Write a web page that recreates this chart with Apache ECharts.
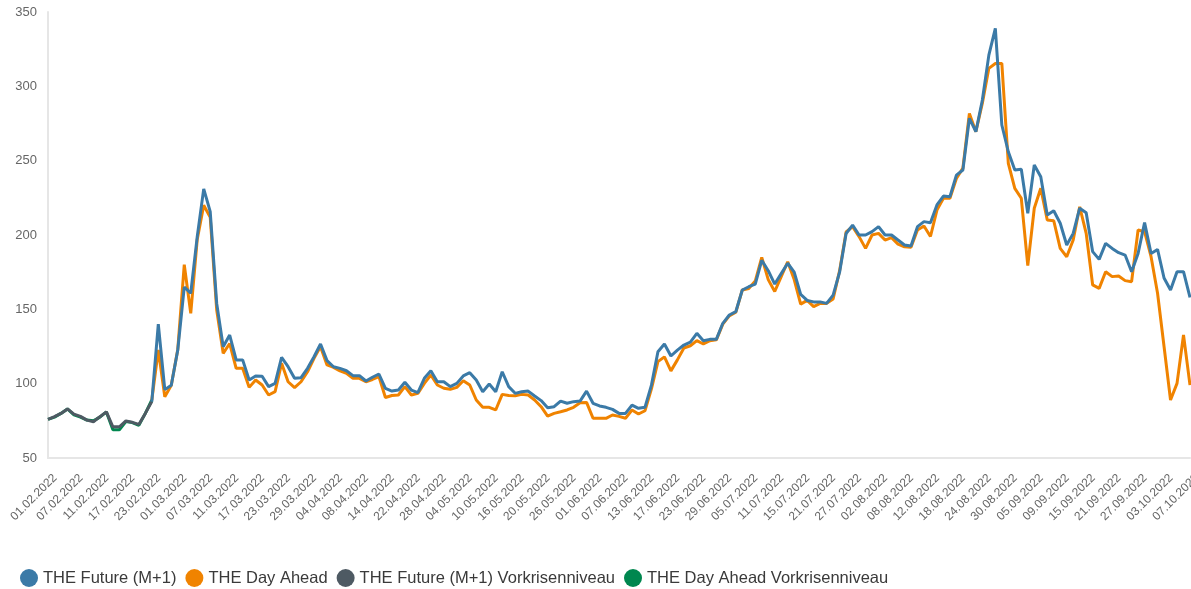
<!DOCTYPE html>
<html><head><meta charset="utf-8">
<script src="https://cdn.jsdelivr.net/npm/echarts@6/dist/echarts.min.js"></script>
<style>html,body{margin:0;padding:0;background:#fff}#c{width:1191px;height:589px}</style>
</head><body><div id="c"></div>
<script>
const dates = [
'01.02.2022','02.02.2022','03.02.2022','04.02.2022','07.02.2022','08.02.2022','09.02.2022','10.02.2022','11.02.2022','14.02.2022','15.02.2022','16.02.2022','17.02.2022','18.02.2022','21.02.2022','22.02.2022','23.02.2022','24.02.2022','25.02.2022','28.02.2022',
'01.03.2022','02.03.2022','03.03.2022','04.03.2022','07.03.2022','08.03.2022','09.03.2022','10.03.2022','11.03.2022','14.03.2022','15.03.2022','16.03.2022','17.03.2022','18.03.2022','21.03.2022','22.03.2022','23.03.2022','24.03.2022','25.03.2022','28.03.2022','29.03.2022','30.03.2022','31.03.2022',
'01.04.2022','04.04.2022','05.04.2022','06.04.2022','07.04.2022','08.04.2022','11.04.2022','12.04.2022','13.04.2022','14.04.2022','19.04.2022','20.04.2022','21.04.2022','22.04.2022','25.04.2022','26.04.2022','27.04.2022','28.04.2022','29.04.2022',
'02.05.2022','03.05.2022','04.05.2022','05.05.2022','06.05.2022','09.05.2022','10.05.2022','11.05.2022','12.05.2022','13.05.2022','16.05.2022','17.05.2022','18.05.2022','19.05.2022','20.05.2022','23.05.2022','24.05.2022','25.05.2022','26.05.2022','27.05.2022','30.05.2022','31.05.2022',
'01.06.2022','02.06.2022','03.06.2022','06.06.2022','07.06.2022','08.06.2022','09.06.2022','10.06.2022','13.06.2022','14.06.2022','15.06.2022','16.06.2022','17.06.2022','20.06.2022','21.06.2022','22.06.2022','23.06.2022','24.06.2022','27.06.2022','28.06.2022','29.06.2022','30.06.2022',
'01.07.2022','04.07.2022','05.07.2022','06.07.2022','07.07.2022','08.07.2022','11.07.2022','12.07.2022','13.07.2022','14.07.2022','15.07.2022','18.07.2022','19.07.2022','20.07.2022','21.07.2022','22.07.2022','25.07.2022','26.07.2022','27.07.2022','28.07.2022','29.07.2022',
'01.08.2022','02.08.2022','03.08.2022','04.08.2022','05.08.2022','08.08.2022','09.08.2022','10.08.2022','11.08.2022','12.08.2022','15.08.2022','16.08.2022','17.08.2022','18.08.2022','19.08.2022','22.08.2022','23.08.2022','24.08.2022','25.08.2022','26.08.2022','29.08.2022','30.08.2022','31.08.2022',
'01.09.2022','02.09.2022','05.09.2022','06.09.2022','07.09.2022','08.09.2022','09.09.2022','12.09.2022','13.09.2022','14.09.2022','15.09.2022','16.09.2022','19.09.2022','20.09.2022','21.09.2022','22.09.2022','23.09.2022','26.09.2022','27.09.2022','28.09.2022','29.09.2022','30.09.2022',
'03.10.2022','04.10.2022','05.10.2022','06.10.2022','07.10.2022'
];

const futureM1 = [
null,null,null,null,null,null,null,null,null,null,null,null,null,null,null,null,88,140,96,99,
122.6,165,160.8,198.9,231,215.7,154,124.9,132.7,116,116,102.5,105.2,105,98,100.2,117.7,111.4,103.6,104,110.3,118.1,126.7,
115.5,111.4,110.3,108.7,105.4,105.4,101.8,104.3,106.5,96.9,95,95.8,100.9,95.7,93.9,103.6,108.7,101.3,101.3,
98,100.2,105.2,107.4,102.5,94.6,99.8,94.6,108,98,93.5,94.6,95,91.7,88.6,83.8,84.5,88.3,86.8,87.9,88.3,95,
86.8,85,84.1,82.7,80,80,85.6,83.4,84.1,99,121.5,126.7,118.6,122.6,126,128,133.9,128.9,129.8,129.8,140.6,146.2,
148.4,163,165.2,167,183,176,167,174,181,175,160,156,155,155,154,159.6,175,201,206.7,200,200,
202.3,205.6,200,200,196.6,193.3,192.6,205.6,209,208.3,220.2,226.2,225.7,240.3,243.7,278.5,269.5,290.8,321,339,274,256,243.7,
244.2,214.6,247.1,239.2,213.5,216.3,207.9,193.3,201.1,218,215,188.8,183.6,194.4,191,188.1,186.5,175.3,187.6,208.3,187.6,190.3,
171.1,163,175.3,175.3,158
];

const dayAhead = [
null,null,null,null,null,null,null,null,null,null,null,null,null,null,null,null,89,122.6,91.2,99,
123,180,147.3,197,220,212,149.5,120.4,127,110.3,110.3,97.5,102.5,99.1,92.4,94.6,113.7,101.3,97.3,101.3,108,117,124.9,
112.6,111,108.6,107,103.6,103.6,101.3,102.8,104.8,90.7,92,92.4,98,92.4,93.5,100.2,105.8,99.1,96.9,
96.2,97.5,102,99.1,89,84.1,84.1,82.3,92.8,92,91.8,92.8,92.4,89,84.5,78.2,80,81.1,82.3,84.1,87.2,87.4,
76.7,76.7,76.7,78.9,78,76.7,82.3,79.6,81.8,96.5,114.8,118,108.6,116,124,125.5,129,126.7,128.9,129.5,140,145.6,
148,163,164,169,185,170,162,172,182,170,153.5,156,151.8,154,154,157,176,202,205.6,198.9,191,
200,201.1,196.6,198.2,193.9,192.1,191.8,203.4,206,199,216.8,224.7,224.7,238,245,281.8,269.5,288.6,312.1,315.4,315.4,248.2,231.4,
224.7,179.4,218,231.4,210.1,209.6,191,185.4,196.6,219,201.1,166.4,164.1,175.3,172,172.4,169.3,168.6,203.4,202.2,185.4,160.8,
125,89,100.2,132.7,99
];

const futureM1PreCrisis = [76,77.8,80,83,79.5,78,75.5,74.4,77.8,81,71,71,74.9,74,72.6,80,88];
const dayAheadPreCrisis = [76,77.5,80,83,79,77.5,75.5,75,77.5,81,69,69,74.5,73.8,72,80,89];

const seriesNames = ['THE Future (M+1)','THE Day Ahead','THE Future (M+1) Vorkrisenniveau','THE Day Ahead Vorkrisenniveau'];
const seriesColors = ['#3b7aa7','#f08300','#4e5a63','#00874f'];
const yTicks = {min:50, max:350, step:50};

const chart = echarts.init(document.getElementById('c'), null, {renderer:'canvas'});
const pad = arr => dates.map((d,i)=> i < arr.length ? arr[i] : null);
const datasets = [futureM1, dayAhead, pad(futureM1PreCrisis), pad(dayAheadPreCrisis)];
const zs = [5,4,3,2];
const font = 'Liberation Sans, Arial, sans-serif';

chart.setOption({
  animation:false,
  backgroundColor:'#fff',
  grid:{left:48,right:1,top:12,bottom:131,containLabel:false,outerBoundsMode:'none'},
  legend:{
    data:seriesNames,
    left:15, top:564,
    icon:'circle', itemWidth:18, itemHeight:18, itemGap:9,
    textStyle:{fontFamily:font, fontSize:16.5, color:'#3a3a3a'}
  },
  xAxis:{
    type:'category', data:dates, boundaryGap:false,
    axisLine:{show:true, lineStyle:{color:'#e6e6e6', width:2}},
    axisTick:{show:false},
    axisLabel:{interval:3, rotate:45, color:'#666', fontSize:12, fontFamily:font, margin:11,
      verticalAlign:'top', padding:[4,0,0,0], hideOverlap:false, showMaxLabel:true}
  },
  yAxis:{
    type:'value', min:yTicks.min, max:yTicks.max, interval:yTicks.step,
    axisLine:{show:true, lineStyle:{color:'#e6e6e6', width:2}},
    axisTick:{show:false},
    splitLine:{show:false},
    axisLabel:{color:'#666', fontSize:13, fontFamily:font, margin:11}
  },
  series: seriesNames.map((n,k)=>({
    name:n, type:'line', data:datasets[k], showSymbol:false, symbol:'circle',
    z:zs[k], connectNulls:false,
    lineStyle:{width:3, color:seriesColors[k]}, itemStyle:{color:seriesColors[k]}
  }))
});
</script></body></html>
